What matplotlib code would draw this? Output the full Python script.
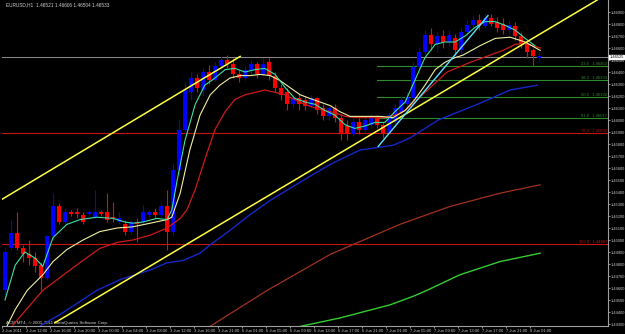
import numpy as np
import matplotlib.pyplot as plt

plt.rcParams['font.family'] = ['Liberation Sans', 'DejaVu Sans']

# EURUSD H1 candles (one per hour, bar index = position on chart)
opens = [1.4458, 1.4493, 1.4506, 1.4493, 1.4488, 1.4485, 1.4479, 1.4468, 1.4503, 1.4528,
         1.4515, 1.4523, 1.4523, 1.4521, 1.4522, 1.4519, 1.4523, 1.4523, 1.4519, 1.4515,
         1.4513, 1.4507, 1.4515, 1.4515, 1.4521, 1.4523, 1.4521, 1.4528, 1.4507, 1.4558,
         1.4592, 1.4623, 1.4635, 1.4625, 1.4640, 1.4633, 1.4645, 1.4650, 1.4647, 1.4638,
         1.4635, 1.4642, 1.4647, 1.4638, 1.4648, 1.4637, 1.4627, 1.4623, 1.4613, 1.4618,
         1.4617, 1.4612, 1.4618, 1.4610, 1.4603, 1.4610, 1.4602, 1.4595, 1.4588, 1.4598,
         1.4592, 1.4596, 1.4602, 1.4596, 1.4589, 1.4598, 1.4607, 1.4613, 1.4618, 1.4644,
         1.4657, 1.4671, 1.4663, 1.4670, 1.4665, 1.4668, 1.4658, 1.4673, 1.4679, 1.4683,
         1.4678, 1.4685, 1.4682, 1.4680, 1.4675, 1.4678, 1.4670, 1.4663, 1.4658, 1.4652]
highs = [1.4493, 1.4517, 1.4523, 1.4496, 1.4500, 1.4490, 1.4482, 1.4504, 1.4539, 1.4531,
         1.4527, 1.4525, 1.4527, 1.4523, 1.4525, 1.4542, 1.4525, 1.4539, 1.4532, 1.4523,
         1.4517, 1.4517, 1.4518, 1.4529, 1.4525, 1.4527, 1.4531, 1.4542, 1.4563, 1.4600,
         1.4632, 1.4640, 1.4638, 1.4643, 1.4646, 1.4648, 1.4653, 1.4654, 1.4652, 1.4642,
         1.4645, 1.4650, 1.4648, 1.4652, 1.4652, 1.4640, 1.4630, 1.4627, 1.4621, 1.4622,
         1.4620, 1.4621, 1.4619, 1.4613, 1.4612, 1.4613, 1.4605, 1.4600, 1.4602, 1.4602,
         1.4603, 1.4605, 1.4604, 1.4598, 1.4607, 1.4613, 1.4620, 1.4623, 1.4648, 1.4660,
         1.4675, 1.4677, 1.4673, 1.4675, 1.4675, 1.4672, 1.4677, 1.4683, 1.4687, 1.4688,
         1.4688, 1.4688, 1.4686, 1.4685, 1.4683, 1.4682, 1.4673, 1.4667, 1.4660, 1.4657]
lows = [1.4454, 1.4492, 1.4492, 1.4482, 1.4479, 1.4473, 1.4458, 1.4467, 1.4500, 1.4513,
        1.4513, 1.4520, 1.4518, 1.4513, 1.4520, 1.4518, 1.4520, 1.4515, 1.4515, 1.4513,
        1.4504, 1.4505, 1.4498, 1.4513, 1.4518, 1.4518, 1.4519, 1.4492, 1.4503, 1.4554,
        1.4588, 1.4617, 1.4623, 1.4621, 1.4630, 1.4632, 1.4642, 1.4643, 1.4635, 1.4632,
        1.4633, 1.4638, 1.4635, 1.4637, 1.4633, 1.4623, 1.4617, 1.4608, 1.4610, 1.4608,
        1.4608, 1.4610, 1.4605, 1.4600, 1.4600, 1.4598, 1.4583, 1.4583, 1.4587, 1.4588,
        1.4590, 1.4593, 1.4593, 1.4585, 1.4593, 1.4597, 1.4605, 1.4610, 1.4617, 1.4642,
        1.4654, 1.4658, 1.4657, 1.4660, 1.4662, 1.4654, 1.4654, 1.4670, 1.4677, 1.4675,
        1.4677, 1.4678, 1.4673, 1.4672, 1.4672, 1.4667, 1.4660, 1.4652, 1.4645, 1.4650]
closes = [1.4490, 1.4506, 1.4493, 1.4488, 1.4485, 1.4478, 1.4468, 1.4503, 1.4528, 1.4515,
          1.4523, 1.4522, 1.4522, 1.4515, 1.4523, 1.4523, 1.4522, 1.4517, 1.4518, 1.4518,
          1.4507, 1.4515, 1.4513, 1.4523, 1.4523, 1.4521, 1.4528, 1.4507, 1.4558, 1.4592,
          1.4625, 1.4635, 1.4627, 1.4640, 1.4633, 1.4645, 1.4650, 1.4647, 1.4638, 1.4635,
          1.4642, 1.4647, 1.4638, 1.4647, 1.4637, 1.4627, 1.4621, 1.4613, 1.4618, 1.4613,
          1.4612, 1.4618, 1.4608, 1.4603, 1.4610, 1.4602, 1.4588, 1.4588, 1.4598, 1.4592,
          1.4600, 1.4602, 1.4596, 1.4589, 1.4604, 1.4610, 1.4617, 1.4619, 1.4644, 1.4657,
          1.4671, 1.4663, 1.4670, 1.4665, 1.4671, 1.4658, 1.4673, 1.4679, 1.4683, 1.4678,
          1.4685, 1.4680, 1.4677, 1.4675, 1.4679, 1.4670, 1.4663, 1.4657, 1.4653, 1.4653]

# moving averages (bar position, price)
ma_fast_x = [0, 1.7, 3.3, 5, 6.3, 8, 10.3, 12.5, 15.3, 18, 20, 21.3, 23, 25.3, 27, 27.8, 28.7,
             30, 31.7, 33.3, 35, 36.7, 38.3, 40, 41.7, 43.3, 45, 46.7, 48.3, 50, 51.7, 53.3,
             55, 56.7, 58.3, 60, 61.7, 63.3, 65, 66.7, 68.3, 70, 71.7, 73.3, 75, 76.7, 78.3,
             80, 81.7, 83.3, 85, 86.7, 88.3]
ma_fast_y = [1.4450, 1.4479, 1.4490, 1.4485, 1.4478, 1.4502, 1.4513, 1.4517, 1.4519, 1.4518,
             1.4515, 1.4514, 1.4515, 1.4518, 1.4517, 1.4525, 1.4550, 1.4583, 1.4613, 1.4629,
             1.4635, 1.4642, 1.4643, 1.4640, 1.4642, 1.4643, 1.4638, 1.4627, 1.4618, 1.4615,
             1.4613, 1.4608, 1.4604, 1.4596, 1.4593, 1.4595, 1.4598, 1.4598, 1.4607, 1.4615,
             1.4633, 1.4652, 1.4663, 1.4665, 1.4665, 1.4670, 1.4677, 1.4682, 1.4682, 1.4679,
             1.4675, 1.4668, 1.4662]
ma_mid_x = [0, 1.7, 3.7, 6.3, 8, 10.3, 13, 15.8, 18.7, 21.3, 24.2, 27, 27.8, 29.2, 30.8, 32.5,
            34.2, 35.8, 37.5, 39.2, 40.8, 42.5, 44.2, 45.8, 47.5, 49.2, 50.8, 52.5, 54.2, 55.8,
            57.5, 59.2, 62.5, 64.7, 66.7, 68.3, 70, 71.7, 73.3, 75, 76.3, 79.2, 81.7, 84.2,
            86.7, 89.2]
ma_mid_y = [1.4425, 1.4442, 1.4458, 1.4471, 1.4482, 1.4492, 1.4500, 1.4507, 1.4510, 1.4511,
            1.4514, 1.4517, 1.4519, 1.4539, 1.4575, 1.4604, 1.4621, 1.4629, 1.4635, 1.4637,
            1.4637, 1.4638, 1.4637, 1.4633, 1.4627, 1.4621, 1.4618, 1.4615, 1.4612, 1.4607,
            1.4603, 1.4603, 1.4603, 1.4602, 1.4608, 1.4617, 1.4629, 1.4642, 1.4648, 1.4652,
            1.4654, 1.4662, 1.4668, 1.4669, 1.4665, 1.4658]
ma_slow_x = [1.3, 6.3, 10.3, 13, 15.8, 18.7, 21.3, 24.2, 27, 29.2, 30.3, 31.7, 33.3, 35, 36.7,
             38.3, 40, 41.7, 43.3, 45, 46.7, 48.3, 50, 51.7, 53.3, 55, 56.7, 58.3, 60, 61.7,
             63.3, 65, 66.7, 68.3, 70, 73.7, 77.5, 80.8, 83, 85, 86.7, 89.2]
ma_slow_y = [1.4429, 1.4458, 1.4473, 1.4483, 1.4493, 1.4498, 1.4500, 1.4504, 1.4510, 1.4518,
             1.4525, 1.4542, 1.4567, 1.4592, 1.4607, 1.4617, 1.4621, 1.4623, 1.4625, 1.4623,
             1.4621, 1.4617, 1.4613, 1.4610, 1.4608, 1.4606, 1.4603, 1.4602, 1.4602, 1.4602,
             1.4602, 1.4604, 1.4608, 1.4615, 1.4623, 1.4640, 1.4648, 1.4654, 1.4658, 1.4663,
             1.4664, 1.4660]
ma_blue_x = [4.7, 9.2, 15.3, 19.2, 24.2, 27, 29.7, 32.5, 34.2, 37.5, 40.8, 44.2, 47.5, 50.8,
             54.2, 57.5, 59.2, 64.7, 67.5, 72.2, 78.7, 84.2, 88.7]
ma_blue_y = [1.4425, 1.4438, 1.4458, 1.4467, 1.4475, 1.4481, 1.4483, 1.4489, 1.4496, 1.4508,
             1.4521, 1.4533, 1.4543, 1.4553, 1.4563, 1.4571, 1.4575, 1.4579, 1.4585, 1.4600,
             1.4613, 1.4625, 1.4629]
ma_brown_x = [31.3, 43.7, 54.2, 65.8, 74.2, 82.5, 89.2]
ma_brown_y = [1.4419, 1.4458, 1.4488, 1.4513, 1.4528, 1.4539, 1.4546]
ma_green_x = [48, 49.2, 55.8, 64.2, 68, 70.3, 75.8, 82.5, 89.2]
ma_green_y = [1.4421, 1.4428, 1.4435, 1.4446, 1.4453, 1.4458, 1.4471, 1.4482, 1.4489]

# drawn objects
upper_channel = ([-0.8, 39.2], [1.4533, 1.4653])
lower_channel = ([8.3, 98.7], [1.4431, 1.4700])
cyan_trend = ([62.2, 80.5], [1.4578, 1.4687])
fib_levels = [1.46450, 1.46333, 1.46192, 1.46017]
fib_names = ['23.6', '38.2', '50.0', '61.8']
red_levels = [1.45892, 1.44967]
red_names = ['76.4', '100.0']
bid = 1.46525

x_labels = ['2 Jun 2011', '2 Jun 12:00', '2 Jun 16:00', '2 Jun 20:00', '3 Jun 00:00',
            '3 Jun 04:00', '3 Jun 08:00', '3 Jun 12:00', '3 Jun 16:00', '3 Jun 21:00',
            '6 Jun 01:00', '6 Jun 05:00', '6 Jun 09:00', '6 Jun 13:00', '6 Jun 17:00',
            '6 Jun 21:00', '7 Jun 01:00', '7 Jun 05:00', '7 Jun 09:00', '7 Jun 13:00',
            '7 Jun 17:00', '7 Jun 21:00', '8 Jun 01:00']

fig = plt.figure(figsize=(6.25, 3.34), dpi=100, facecolor='black')
ax = fig.add_axes([2 / 625, 8 / 334, 606 / 625, 326 / 334], facecolor='black')

y_lo, y_hi = 1.4700 - 326 / 12000, 1.4700
ax.set_xlim(-0.5, 100.5)
ax.set_ylim(y_lo, y_hi)

# horizontal lines
ax.axhline(bid, color='#8c8c8c', lw=0.7, zorder=1)
for lvl in red_levels:
    ax.axhline(lvl, color='#c81414', lw=0.8, zorder=1)
for lvl in fib_levels:
    ax.plot([62, 100.5], [lvl, lvl], color='#2e8b2e', lw=0.8, zorder=1)
for lvl, name in zip(fib_levels, fib_names):
    ax.text(100.3, lvl + 0.00003, f'{name}   {lvl:.5f}', color='#2e8b2e', fontsize=3.0,
            ha='right', va='bottom')
for lvl, name in zip(red_levels, red_names):
    ax.text(100.3, lvl + 0.00003, f'{name}   {lvl:.5f}', color='#c81414', fontsize=3.0,
            ha='right', va='bottom')

# candles
idx = np.arange(len(opens))
o = np.array(opens)
c = np.array(closes)
cols = np.where(c >= o, '#0000ff', '#ff0000')
ax.vlines(idx, lows, highs, colors=cols, lw=0.8, zorder=2)
ax.bar(idx, np.maximum(np.abs(c - o), 0.00004), bottom=np.minimum(o, c), width=0.62,
       color=cols, zorder=3)

# moving averages
ax.plot(ma_green_x, ma_green_y, color='#32cd32', lw=1.0, zorder=4)
ax.plot(ma_brown_x, ma_brown_y, color='#a0321e', lw=0.9, zorder=4)
ax.plot(ma_blue_x, ma_blue_y, color='#1428c8', lw=1.0, zorder=4)
ax.plot(ma_slow_x, ma_slow_y, color='#cc1a1a', lw=0.9, zorder=4)
ax.plot(ma_mid_x, ma_mid_y, color='#f0f0a0', lw=0.8, zorder=4)
ax.plot(ma_fast_x, ma_fast_y, color='#40e0a8', lw=0.8, zorder=4)

# trendlines
ax.plot(*upper_channel, color='#ffff40', lw=1.1, zorder=5)
ax.plot(*lower_channel, color='#ffff40', lw=1.1, zorder=5)
ax.plot(*cyan_trend, color='#60e0ff', lw=1.0, zorder=5)

# axes styling like the terminal
for s in ['top', 'left']:
    ax.spines[s].set_visible(False)
for s in ['right', 'bottom']:
    ax.spines[s].set_color('#a0a0a0')
    ax.spines[s].set_linewidth(0.8)

yt = np.arange(1.4430, 1.46905, 0.0010)
ax.yaxis.tick_right()
ax.set_yticks(yt)
ax.set_yticklabels([f'{v:.5f}' for v in yt])
ax.tick_params(axis='y', colors='#c8c8c8', labelsize=2.9, length=1.5, width=0.5, pad=0.3)

ax.set_xticks(np.arange(len(x_labels)) * 4 - 0.5)
ax.set_xticklabels(x_labels, ha='left')
ax.tick_params(axis='x', colors='#c8c8c8', labelsize=3.0, length=1.5, width=0.5, pad=0.3)

# current price box
ax.text(100.75, bid, f'{bid:.5f}', fontsize=2.9, color='black', va='center', ha='left',
        bbox=dict(boxstyle='square,pad=0.12', fc='white', ec='white'), clip_on=False, zorder=6)

ax.text(0.2, y_hi - 0.0002, 'EURUSD,H1  1.46521 1.46606 1.46504 1.46533', color='#d0d0d0',
        fontsize=3.4, va='top', ha='left')
ax.text(0.2, y_lo + 0.0001, 'ACM MT4, \u00a9 2001-2011 MetaQuotes Software Corp.', color='#d0d0d0',
        fontsize=3.2, va='bottom', ha='left')

fig.savefig('out.png', dpi=100, facecolor='black')
